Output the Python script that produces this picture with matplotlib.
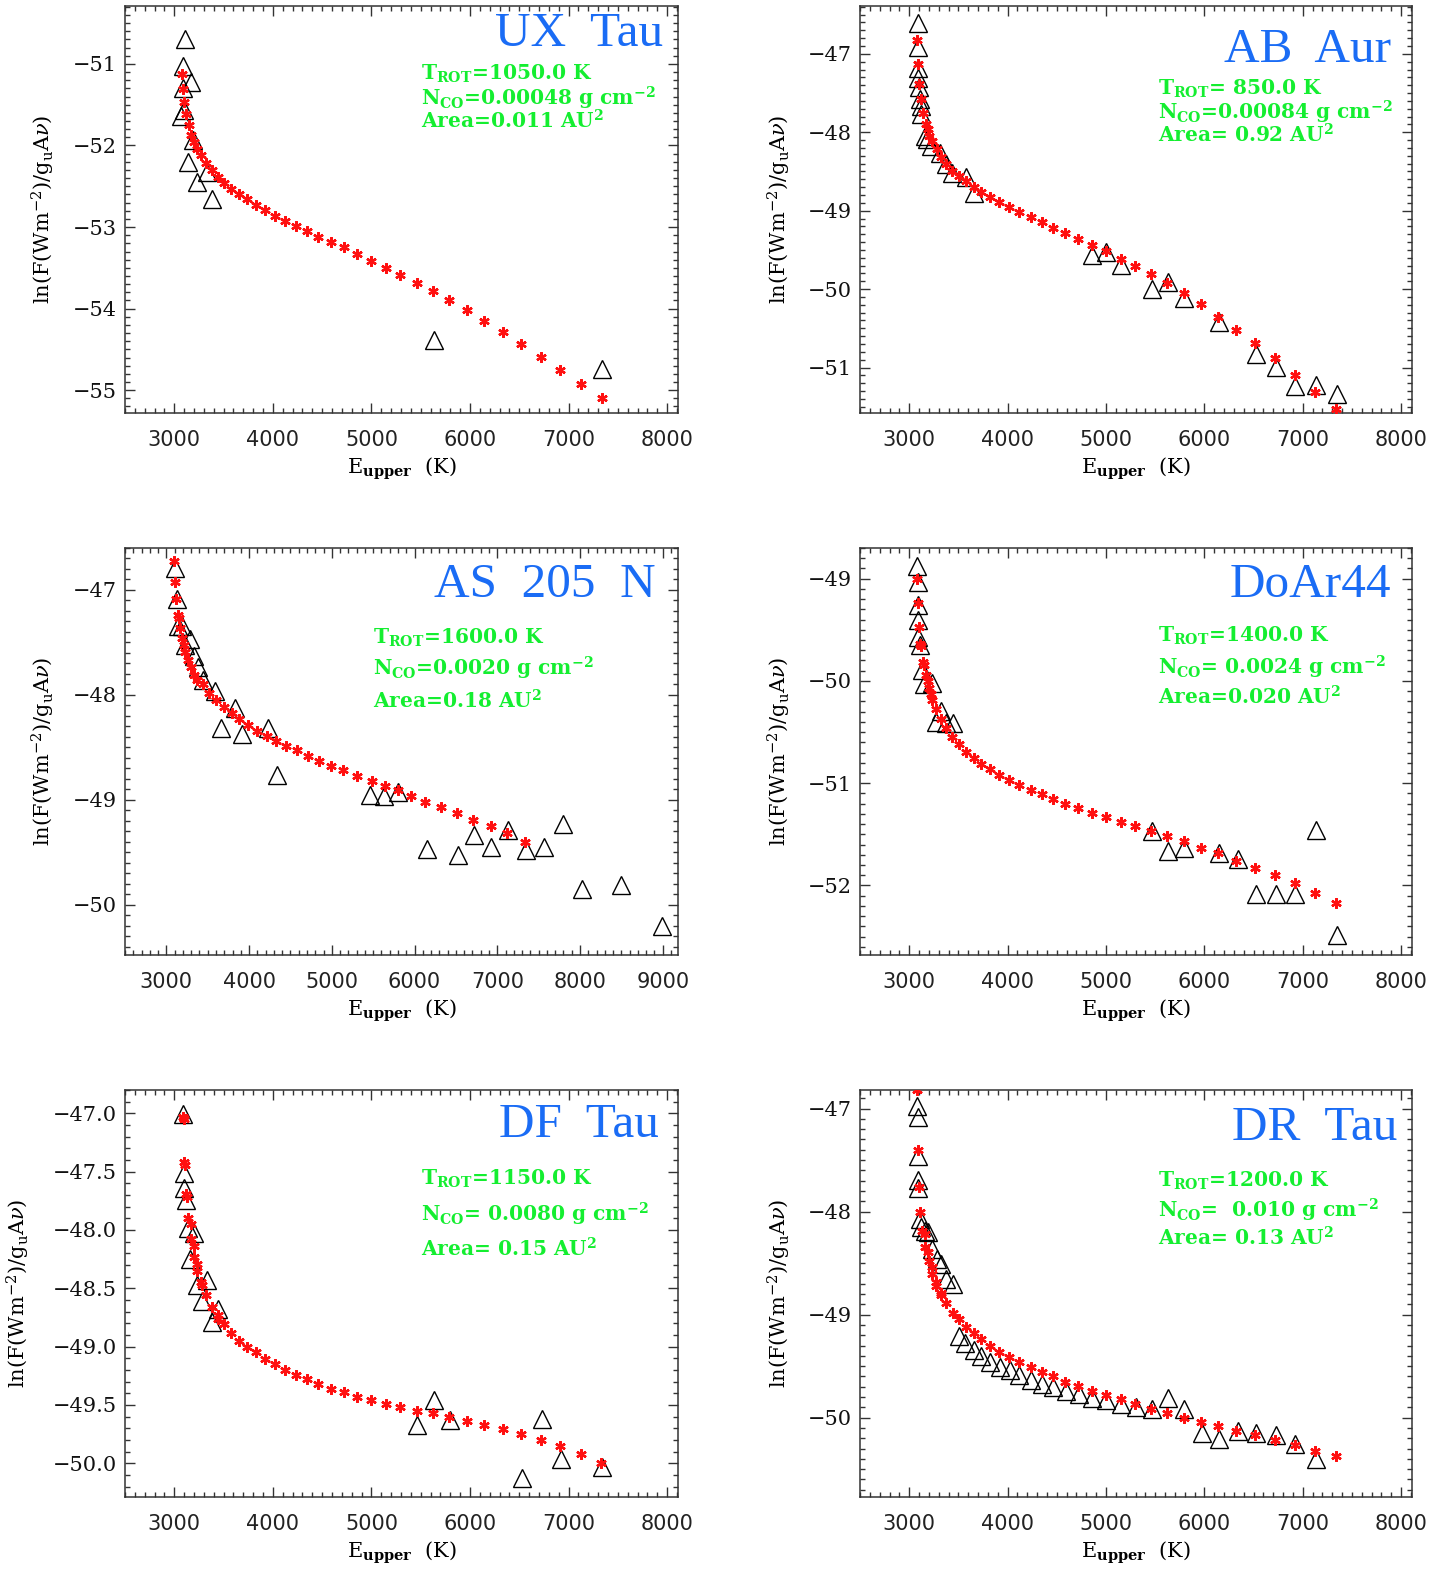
import matplotlib
matplotlib.use("Agg")
import matplotlib.pyplot as plt
from matplotlib.ticker import MultipleLocator

plt.rcParams['mathtext.fontset'] = 'dejavuserif'

# ---------------- data ----------------
names = ["UX  Tau", "AB  Aur", "AS  205  N", "DoAr44", "DF  Tau", "DR  Tau"]

params = [
    [r"T$_{\mathbf{ROT}}$=1050.0 K", r"N$_{\mathbf{CO}}$=0.00048 g cm$^{\mathbf{-2}}$", r"Area=0.011 AU$^{\mathbf{2}}$"],
    [r"T$_{\mathbf{ROT}}$= 850.0 K", r"N$_{\mathbf{CO}}$=0.00084 g cm$^{\mathbf{-2}}$", r"Area= 0.92 AU$^{\mathbf{2}}$"],
    [r"T$_{\mathbf{ROT}}$=1600.0 K", r"N$_{\mathbf{CO}}$=0.0020 g cm$^{\mathbf{-2}}$", r"Area=0.18 AU$^{\mathbf{2}}$"],
    [r"T$_{\mathbf{ROT}}$=1400.0 K", r"N$_{\mathbf{CO}}$= 0.0024 g cm$^{\mathbf{-2}}$", r"Area=0.020 AU$^{\mathbf{2}}$"],
    [r"T$_{\mathbf{ROT}}$=1150.0 K", r"N$_{\mathbf{CO}}$= 0.0080 g cm$^{\mathbf{-2}}$", r"Area= 0.15 AU$^{\mathbf{2}}$"],
    [r"T$_{\mathbf{ROT}}$=1200.0 K", r"N$_{\mathbf{CO}}$=  0.010 g cm$^{\mathbf{-2}}$", r"Area= 0.13 AU$^{\mathbf{2}}$"],
]

# UX Tau
ux_mod_e = [3081, 3092, 3103, 3121, 3147, 3173, 3202, 3231, 3275, 3323, 3382, 3440, 3507, 3576, 3653,
            3734, 3825, 3918, 4017, 4120, 4230, 4347, 4461, 4589, 4725, 4857, 5000, 5147, 5294, 5460,
            5625, 5790, 5967, 6147, 6330, 6517, 6716, 6918, 7123, 7340]
ux_mod_y = [-51.12, -51.31, -51.47, -51.62, -51.75, -51.87, -51.96, -52.04, -52.12, -52.22, -52.30, -52.39,
            -52.46, -52.53, -52.60, -52.66, -52.73, -52.79, -52.86, -52.92, -52.99, -53.05, -53.12, -53.18,
            -53.25, -53.33, -53.42, -53.50, -53.59, -53.69, -53.79, -53.90, -54.02, -54.15, -54.29, -54.44,
            -54.59, -54.75, -54.92, -55.10]
ux_obs_e = [3110, 3088, 3169, 3088, 3103, 3066, 3194, 3136, 3330, 3231, 3386, 5630, 7343]
ux_obs_y = [-50.69, -51.02, -51.22, -51.30, -51.56, -51.64, -51.93, -52.20, -52.33, -52.45, -52.66, -54.38, -54.74]

# AB Aur
ab_mod_e = [3078, 3086, 3097, 3116, 3142, 3168, 3191, 3206, 3235, 3280, 3321, 3377, 3434, 3504, 3579,
            3654, 3733, 3822, 3916, 4013, 4121, 4233, 4345, 4461, 4588, 4719, 4853, 4999, 5149, 5298,
            5459, 5620, 5795, 5964, 6143, 6326, 6517, 6719, 6917, 7129, 7339]
ab_mod_y = [-46.82, -47.13, -47.39, -47.58, -47.75, -47.89, -47.96, -48.05, -48.11, -48.21, -48.31, -48.40,
            -48.49, -48.56, -48.62, -48.70, -48.76, -48.83, -48.89, -48.95, -49.02, -49.08, -49.15, -49.22,
            -49.28, -49.36, -49.44, -49.52, -49.61, -49.70, -49.81, -49.92, -50.05, -50.19, -50.35, -50.52,
            -50.69, -50.88, -51.09, -51.31, -51.53]
ab_obs_e = [3086, 3086, 3086, 3093, 3097, 3105, 3116, 3123, 3161, 3179, 3217, 3310, 3377, 3434, 3579,
            3658, 4861, 5003, 5153, 5467, 5628, 5796, 6148, 6525, 6723, 6925, 7134, 7346]
ab_obs_y = [-46.61, -46.91, -47.18, -47.31, -47.42, -47.58, -47.66, -47.77, -48.05, -48.08, -48.18, -48.26,
            -48.40, -48.52, -48.57, -48.77, -49.56, -49.53, -49.69, -50.00, -49.91, -50.11, -50.42, -50.83,
            -50.99, -51.23, -51.22, -51.34]

# AS 205 N
as_mod_e = [3090, 3100, 3120, 3140, 3150, 3170, 3190, 3210, 3230, 3260, 3300, 3340, 3370, 3440, 3520,
            3600, 3700, 3790, 3880, 3990, 4100, 4220, 4330, 4450, 4580, 4710, 4850, 4990, 5140, 5310,
            5480, 5640, 5800, 5960, 6130, 6320, 6510, 6710, 6920, 7120, 7330]
as_mod_y = [-46.72, -46.92, -47.09, -47.24, -47.27, -47.36, -47.46, -47.52, -47.59, -47.67, -47.73, -47.81,
            -47.86, -47.90, -47.98, -48.05, -48.12, -48.17, -48.23, -48.29, -48.34, -48.39, -48.44, -48.49,
            -48.53, -48.58, -48.63, -48.68, -48.72, -48.77, -48.82, -48.87, -48.91, -48.96, -49.02, -49.07,
            -49.13, -49.19, -49.25, -49.32, -49.40]
as_obs_e = [3100, 3130, 3140, 3190, 3280, 3220, 3330, 3380, 3440, 3590, 3830, 3660, 3920, 4230, 4340,
            5460, 5630, 5800, 6150, 6520, 6720, 6920, 7130, 7350, 7560, 7790, 8020, 8490, 8990]
as_obs_y = [-46.79, -47.09, -47.34, -47.34, -47.47, -47.52, -47.63, -47.73, -47.86, -47.96, -48.13, -48.32,
            -48.37, -48.32, -48.76, -48.95, -48.96, -48.93, -49.47, -49.53, -49.34, -49.45, -49.29, -49.48,
            -49.45, -49.23, -49.85, -49.81, -50.20]

# DoAr44
do_mod_e = [3078, 3086, 3097, 3112, 3120, 3142, 3150, 3168, 3191, 3198, 3224, 3236, 3273, 3321, 3374,
            3433, 3504, 3579, 3654, 3733, 3822, 3916, 4013, 4121, 4233, 4345, 4461, 4588, 4719, 4853,
            4999, 5149, 5298, 5459, 5620, 5795, 5964, 6143, 6326, 6517, 6719, 6917, 7129, 7339]
do_mod_y = [-49.00, -49.24, -49.47, -49.64, -49.66, -49.81, -49.84, -49.94, -50.00, -50.07, -50.13, -50.19,
            -50.27, -50.37, -50.46, -50.55, -50.62, -50.69, -50.75, -50.81, -50.86, -50.92, -50.97, -51.02,
            -51.07, -51.11, -51.15, -51.20, -51.24, -51.29, -51.33, -51.38, -51.42, -51.47, -51.52, -51.57,
            -51.63, -51.68, -51.76, -51.83, -51.90, -51.98, -52.07, -52.17]
do_obs_e = [3078, 3086, 3086, 3093, 3093, 3112, 3131, 3149, 3236, 3321, 3273, 3377, 3441, 5467, 5628,
            5796, 6150, 6337, 6524, 6723, 6925, 7134, 7346]
do_obs_y = [-48.88, -49.03, -49.26, -49.40, -49.57, -49.65, -49.89, -50.03, -50.02, -50.29, -50.40, -50.41,
            -50.41, -51.47, -51.66, -51.63, -51.68, -51.74, -52.08, -52.08, -52.08, -51.46, -52.48]

# DF Tau
df_mod_e = [3088, 3095, 3103, 3110, 3117, 3132, 3136, 3165, 3165, 3195, 3195, 3231, 3231, 3275, 3283,
            3323, 3385, 3440, 3447, 3503, 3576, 3653, 3734, 3826, 3918, 4017, 4120, 4230, 4347, 4461,
            4590, 4725, 4857, 5000, 5147, 5294, 5460, 5625, 5790, 5966, 6146, 6330, 6517, 6716, 6917,
            7123, 7332]
df_mod_y = [-47.03, -47.05, -47.42, -47.44, -47.69, -47.72, -47.90, -47.95, -48.08, -48.14, -48.23, -48.29,
            -48.35, -48.45, -48.47, -48.56, -48.66, -48.73, -48.76, -48.81, -48.88, -48.95, -49.00, -49.05,
            -49.11, -49.15, -49.20, -49.24, -49.28, -49.32, -49.36, -49.39, -49.43, -49.46, -49.49, -49.52,
            -49.55, -49.57, -49.60, -49.64, -49.67, -49.71, -49.75, -49.80, -49.85, -49.92, -50.00]
df_obs_e = [3088, 3099, 3095, 3114, 3136, 3202, 3158, 3330, 3231, 3283, 3440, 3386, 5630, 5467, 5797,
            6726, 6928, 6524, 7343]
df_obs_y = [-47.01, -47.51, -47.64, -47.74, -47.98, -48.03, -48.25, -48.43, -48.47, -48.61, -48.68, -48.79,
            -49.46, -49.67, -49.63, -49.62, -49.96, -50.13, -50.03]

# DR Tau
dr_mod_e = [3078, 3086, 3097, 3112, 3135, 3161, 3161, 3187, 3198, 3228, 3235, 3273, 3273, 3321, 3321,
            3377, 3441, 3504, 3579, 3654, 3733, 3822, 3916, 4013, 4121, 4233, 4345, 4461, 4588, 4719,
            4853, 4999, 5149, 5298, 5459, 5620, 5795, 5964, 6143, 6326, 6517, 6719, 6917, 7129, 7339]
dr_mod_y = [-46.82, -47.40, -47.76, -48.00, -48.19, -48.22, -48.34, -48.39, -48.48, -48.54, -48.61, -48.68,
            -48.72, -48.79, -48.81, -48.89, -48.98, -49.04, -49.12, -49.18, -49.24, -49.30, -49.36, -49.41,
            -49.46, -49.51, -49.56, -49.60, -49.65, -49.69, -49.74, -49.78, -49.82, -49.87, -49.92, -49.95,
            -50.00, -50.04, -50.08, -50.13, -50.17, -50.22, -50.27, -50.32, -50.37]
dr_obs_e = [3078, 3086, 3086, 3093, 3093, 3105, 3123, 3161, 3191, 3228, 3280, 3321, 3377, 3441, 3504,
            3572, 3654, 3729, 3826, 3919, 4020, 4121, 4233, 4345, 4461, 4592, 4730, 4861, 5003, 5153,
            5302, 5467, 5628, 5796, 5971, 6150, 6337, 6524, 6723, 6925, 7134]
dr_obs_y = [-46.98, -47.08, -47.46, -47.69, -47.77, -48.07, -48.15, -48.19, -48.20, -48.36, -48.46, -48.51,
            -48.65, -48.70, -49.21, -49.28, -49.34, -49.40, -49.46, -49.51, -49.54, -49.59, -49.63, -49.67,
            -49.70, -49.74, -49.77, -49.81, -49.83, -49.87, -49.90, -49.92, -49.81, -49.92, -50.15, -50.21,
            -50.13, -50.15, -50.17, -50.26, -50.40]

model_e = [ux_mod_e, ab_mod_e, as_mod_e, do_mod_e, df_mod_e, dr_mod_e]
model_y = [ux_mod_y, ab_mod_y, as_mod_y, do_mod_y, df_mod_y, dr_mod_y]
obs_e = [ux_obs_e, ab_obs_e, as_obs_e, do_obs_e, df_obs_e, dr_obs_e]
obs_y = [ux_obs_y, ab_obs_y, as_obs_y, do_obs_y, df_obs_y, dr_obs_y]

xlims = [(2500, 8110), (2500, 8110), (2500, 9185), (2500, 8110), (2500, 8110), (2500, 8110)]
ylims = [(-55.28, -50.29), (-51.58, -46.39), (-50.48, -46.60), (-52.68, -48.70), (-50.29, -46.80), (-50.77, -46.82)]
ymajor = [1, 1, 1, 1, 0.5, 1]

# ---------------- layout ----------------
W, H = 1452, 1572
fig = plt.figure(figsize=(W / 100, H / 100), dpi=100)
boxes = [(125, 6, 678, 413), (860, 6, 1412, 413),
         (125, 548, 678, 955), (860, 548, 1412, 955),
         (125, 1090, 678, 1497), (860, 1090, 1412, 1497)]

title_pos = [(0.973, 0.930), (0.962, 0.893), (0.960, 0.908), (0.962, 0.908), (0.966, 0.915), (0.973, 0.906)]
text_x = [0.535, 0.540, 0.448, 0.540, 0.535, 0.540]
text_y = [[0.833, 0.774, 0.717], [0.796, 0.739, 0.683], [0.779, 0.703, 0.624],
          [0.784, 0.707, 0.634], [0.782, 0.695, 0.609], [0.777, 0.703, 0.636]]
ylab_x = [-0.148, -0.146, -0.148, -0.146, -0.193, -0.146]

green = '#14ee30'
blue = '#1a6cf5'

for i in range(6):
    l, t, r, b = boxes[i]
    ax = fig.add_axes([l / W, 1 - b / H, (r - l) / W, (b - t) / H])
    ax.plot(obs_e[i], obs_y[i], linestyle='none', marker='^', markersize=12.5,
            markerfacecolor='none', markeredgecolor='black', markeredgewidth=1.0, zorder=2)
    ax.plot(model_e[i], model_y[i], linestyle='none', marker=(6, 2, 0), markersize=7.5,
            markeredgecolor='#ff1010', markeredgewidth=1.7, zorder=3)
    ax.set_xlim(*xlims[i])
    ax.set_ylim(*ylims[i])
    ax.xaxis.set_major_locator(MultipleLocator(1000))
    ax.xaxis.set_minor_locator(MultipleLocator(100))
    ax.yaxis.set_major_locator(MultipleLocator(ymajor[i]))
    ax.yaxis.set_minor_locator(MultipleLocator(0.1))
    ax.tick_params(which='both', direction='in', top=True, right=True, color='#333333', width=1.0)
    ax.tick_params(which='major', length=7)
    ax.tick_params(which='minor', length=3.5)
    ax.tick_params(axis='x', which='major', pad=12, labelsize=15, labelcolor='#222222')
    ax.tick_params(axis='y', which='major', pad=6, labelsize=15, labelcolor='#111111')
    for lab in ax.get_xticklabels():
        lab.set_fontfamily('DejaVu Sans')
    for lab in ax.get_yticklabels():
        lab.set_fontfamily('DejaVu Serif')
    for sp in ax.spines.values():
        sp.set_linewidth(1.1)
        sp.set_color('#333333')

    ax.text(title_pos[i][0], title_pos[i][1], names[i], transform=ax.transAxes,
            ha='right', va='center', fontsize=35.5, color=blue, family='Liberation Serif')
    for j in range(3):
        ax.text(text_x[i], text_y[i][j], params[i][j], transform=ax.transAxes,
                ha='left', va='center', fontsize=14.5, color=green, family='DejaVu Serif',
                fontweight='bold')
    ax.text(0.5, -0.138, r'E$_{\mathbf{upper}}$  (K)', transform=ax.transAxes,
            ha='center', va='center', fontsize=15, family='DejaVu Serif')
    ax.text(ylab_x[i], 0.5, r'ln(F(Wm$^{-2}$)/g$_{\mathrm{u}}$A$\nu$)', transform=ax.transAxes,
            ha='center', va='center', rotation=90, fontsize=15, family='DejaVu Serif')

fig.savefig('out.png', dpi=100)
